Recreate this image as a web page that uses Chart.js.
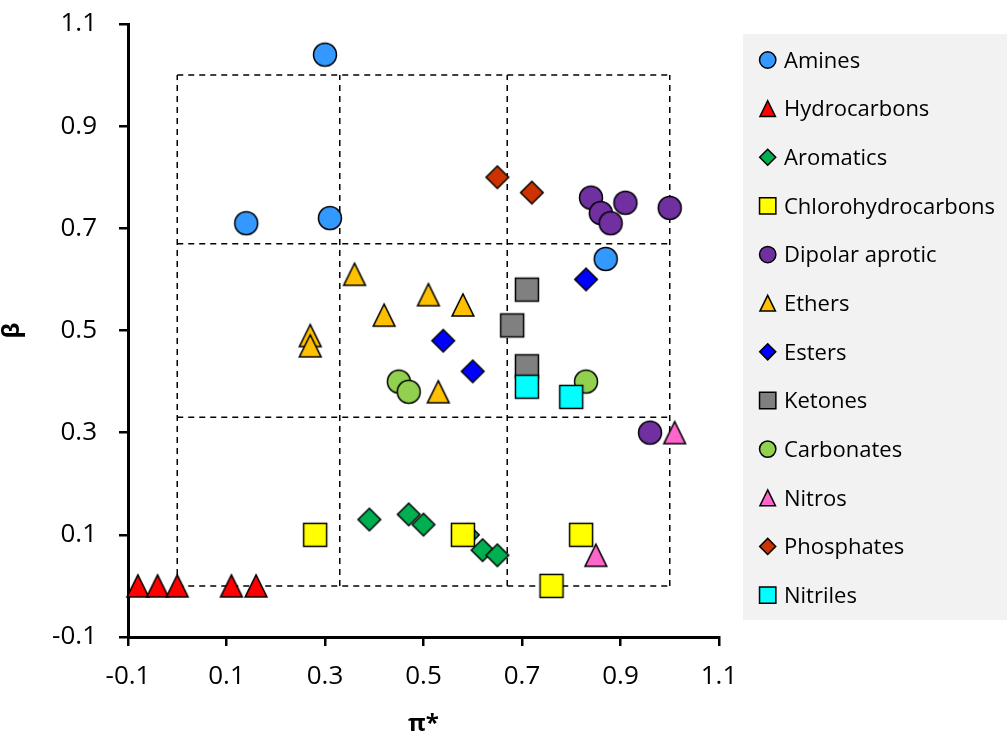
<!DOCTYPE html>
<html>
<head>
<meta charset="utf-8">
<script src="https://cdn.jsdelivr.net/npm/chart.js@4.4.0/dist/chart.umd.min.js"></script>
<style>
html,body{margin:0;padding:0;background:#fff;}
#wrap{width:1007px;height:735px;position:relative;}
</style>
</head>
<body>
<div id="wrap"><canvas id="c" width="1007" height="735"></canvas></div>
<script>
// ---------- data ----------
const xTickValues = [-0.1, 0.1, 0.3, 0.5, 0.7, 0.9, 1.1];
const xTickLabels = ['-0.1', '0.1', '0.3', '0.5', '0.7', '0.9', '1.1'];
const yTickValues = [-0.1, 0.1, 0.3, 0.5, 0.7, 0.9, 1.1];
const yTickLabels = ['-0.1', '0.1', '0.3', '0.5', '0.7', '0.9', '1.1'];
const xTitle = 'π*';
const yTitle = 'β';

const seriesNames = ['Amines', 'Hydrocarbons', 'Aromatics', 'Chlorohydrocarbons', 'Dipolar aprotic',
  'Ethers', 'Esters', 'Ketones', 'Carbonates', 'Nitros', 'Phosphates', 'Nitriles'];

const aminesX = [0.30, 0.14, 0.31, 0.87];
const aminesY = [1.04, 0.71, 0.72, 0.64];
const hydrocarbonsX = [-0.08, -0.04, 0.00, 0.11, 0.16];
const hydrocarbonsY = [0.00, 0.00, 0.00, 0.00, 0.00];
const aromaticsX = [0.39, 0.47, 0.50, 0.59, 0.62, 0.65];
const aromaticsY = [0.13, 0.14, 0.12, 0.10, 0.07, 0.06];
const chloroX = [0.28, 0.58, 0.82, 0.76];
const chloroY = [0.10, 0.10, 0.10, 0.00];
const dipolarX = [0.84, 0.86, 0.88, 0.91, 1.00, 0.96];
const dipolarY = [0.76, 0.73, 0.71, 0.75, 0.74, 0.30];
const ethersX = [0.36, 0.27, 0.27, 0.42, 0.51, 0.58, 0.53];
const ethersY = [0.61, 0.49, 0.47, 0.53, 0.57, 0.55, 0.38];
const estersX = [0.54, 0.60, 0.83];
const estersY = [0.48, 0.42, 0.60];
const ketonesX = [0.71, 0.68, 0.71];
const ketonesY = [0.58, 0.51, 0.43];
const carbonatesX = [0.45, 0.47, 0.83];
const carbonatesY = [0.40, 0.38, 0.40];
const nitrosX = [1.01, 0.85];
const nitrosY = [0.30, 0.06];
const phosphatesX = [0.65, 0.72];
const phosphatesY = [0.80, 0.77];
const nitrilesX = [0.71, 0.80];
const nitrilesY = [0.39, 0.37];

// region guide lines (dashed box)
const guideLines = [0, 0.33, 0.67, 1];

// ---------- styles ----------
const seriesX = [aminesX, hydrocarbonsX, aromaticsX, chloroX, dipolarX, ethersX, estersX, ketonesX, carbonatesX, nitrosX, phosphatesX, nitrilesX];
const seriesY = [aminesY, hydrocarbonsY, aromaticsY, chloroY, dipolarY, ethersY, estersY, ketonesY, carbonatesY, nitrosY, phosphatesY, nitrilesY];
const seriesColors = ['#3399ff', '#ff0000', '#00b050', '#ffff00', '#7030a0', '#ffc000', '#0000ff', '#808080', '#92d050', '#ff66cc', '#cc3300', '#00ffff'];
const seriesShapes = ['circle', 'triangle', 'diamond', 'square', 'circle', 'triangle', 'diamond', 'square', 'circle', 'triangle', 'diamond', 'square'];

const FONT = "'Open Sans', 'DejaVu Sans', sans-serif";

function drawShape(ctx, shape, cx, cy, k, fill) {
  ctx.beginPath();
  if (shape === 'circle') {
    ctx.arc(cx, cy, 11.5 * k, 0, Math.PI * 2);
  } else if (shape === 'square') {
    ctx.rect(cx - 11.5 * k, cy - 11.5 * k, 23 * k, 23 * k);
  } else if (shape === 'diamond') {
    const r = 11.3 * k;
    ctx.moveTo(cx, cy - r); ctx.lineTo(cx + r, cy); ctx.lineTo(cx, cy + r); ctx.lineTo(cx - r, cy); ctx.closePath();
  } else if (shape === 'triangle') {
    const w = 10.9 * k, h = 11.1 * k;
    ctx.moveTo(cx, cy - h); ctx.lineTo(cx + w, cy + h); ctx.lineTo(cx - w, cy + h); ctx.closePath();
  }
  ctx.fillStyle = fill;
  ctx.fill();
  ctx.lineWidth = 1.5;
  ctx.lineJoin = 'miter';
  ctx.strokeStyle = '#000';
  ctx.stroke();
}

function makeMarker(shape, fill) {
  const cv = document.createElement('canvas');
  cv.width = 32; cv.height = 32;
  drawShape(cv.getContext('2d'), shape, 16, 16, 1, fill);
  return cv;
}

const datasets = seriesNames.map((name, i) => ({
  label: name,
  data: seriesX[i].map((x, j) => ({x: x, y: seriesY[i][j]})),
  pointStyle: makeMarker(seriesShapes[i], seriesColors[i]),
  pointRadius: 12,
  pointHoverRadius: 12,
  backgroundColor: seriesColors[i],
  borderColor: '#000',
  showLine: false,
  clip: false,
  order: seriesNames.length - i
}));

const guidePlugin = {
  id: 'guides',
  beforeDatasetsDraw(chart) {
    const {ctx, scales: {x, y}} = chart;
    ctx.save();
    ctx.setLineDash([6, 5]);
    ctx.lineWidth = 1.5;
    ctx.strokeStyle = '#000';
    const lo = guideLines[0], hi = guideLines[guideLines.length - 1];
    guideLines.forEach(v => {
      ctx.beginPath();
      ctx.moveTo(x.getPixelForValue(v), y.getPixelForValue(lo));
      ctx.lineTo(x.getPixelForValue(v), y.getPixelForValue(hi));
      ctx.stroke();
      ctx.beginPath();
      ctx.moveTo(x.getPixelForValue(lo), y.getPixelForValue(v));
      ctx.lineTo(x.getPixelForValue(hi), y.getPixelForValue(v));
      ctx.stroke();
    });
    ctx.restore();
  }
};

const legendPlugin = {
  id: 'boxLegend',
  afterDraw(chart) {
    const ctx = chart.ctx;
    ctx.save();
    ctx.fillStyle = '#f2f2f2';
    ctx.fillRect(743, 34, 264, 586);
    ctx.font = '22px ' + FONT;
    ctx.textAlign = 'left';
    ctx.textBaseline = 'alphabetic';
    seriesNames.forEach((name, i) => {
      const cy = 60 + 48.64 * i;
      drawShape(ctx, seriesShapes[i], 767.7, cy, 0.71, seriesColors[i]);
      ctx.fillStyle = '#000';
      ctx.fillText(name, 784, cy + 7.8);
    });
    ctx.restore();
  }
};

Chart.defaults.font.family = FONT;
Chart.defaults.color = '#000';

new Chart(document.getElementById('c'), {
  type: 'scatter',
  data: {datasets},
  options: {
    responsive: false,
    animation: false,
    events: [],
    devicePixelRatio: 1,
    layout: {padding: {top: 24, right: 288, left: 0, bottom: 0}},
    plugins: {legend: {display: false}, tooltip: {enabled: false}},
    scales: {
      x: {
        type: 'linear',
        min: -0.1, max: 1.1,
        afterFit(s) { s.height = 98; s.paddingLeft = 0; s.paddingRight = 0; },
        afterBuildTicks(s) { s.ticks = xTickValues.map(v => ({value: v})); },
        ticks: {
          callback: (v, i) => xTickLabels[i],
          font: {size: 26}, color: '#000', padding: 15, maxRotation: 0, autoSkip: false
        },
        grid: {display: true, drawOnChartArea: false, drawTicks: true, tickLength: 9, color: '#000', lineWidth: 2.5},
        border: {display: true, color: '#000', width: 3},
        title: {display: true, text: xTitle, font: {size: 24, weight: 'bold', lineHeight: 1}, color: '#000', padding: {top: 0, bottom: -1}}
      },
      y: {
        type: 'linear',
        min: -0.1, max: 1.1,
        afterFit(s) { s.width = 128; s.paddingTop = 0; s.paddingBottom = 0; },
        afterBuildTicks(s) { s.ticks = yTickValues.map(v => ({value: v})); },
        ticks: {
          callback: (v, i) => yTickLabels[i],
          font: {size: 26}, color: '#000', padding: 22, autoSkip: false
        },
        grid: {display: true, drawOnChartArea: false, drawTicks: true, tickLength: 9, color: '#000', lineWidth: 2.5},
        border: {display: true, color: '#000', width: 3},
        title: {display: true, text: yTitle, font: {size: 24, weight: 'bold', lineHeight: 1}, color: '#000', padding: {top: 0, bottom: 0}}
      }
    }
  },
  plugins: [guidePlugin, legendPlugin]
});
</script>
</body>
</html>
